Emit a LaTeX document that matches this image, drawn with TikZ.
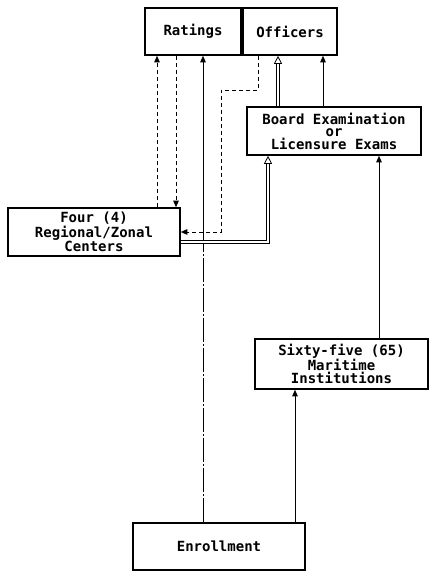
\documentclass[tikz,border=0pt]{standalone}
\usepackage{fontspec}
\usepackage{tikz}
\usetikzlibrary{arrows.meta}
\newfontfamily\dotfont{DejaVu Sans Mono}

\tikzset{
  box/.style={draw, line width=1.6pt, align=center, inner sep=2pt,
    font=\dotfont\bfseries\fontsize{14}{12.5}\selectfont},
  conn/.style={line width=0.9pt, -{Triangle[length=6.5pt,width=5.5pt]}},
  dashconn/.style={conn, dash pattern=on 4pt off 3pt},
  dashdotconn/.style={line width=0.9pt, dash pattern=on 24pt off 2pt on 2pt off 2pt},
  dblconn/.style={double, double distance=2.6pt, line width=0.8pt,
    -{Triangle[open,length=8pt,width=8pt,line width=0.8pt]}}
}

\begin{document}
\begin{tikzpicture}[x=1pt,y=-1pt]
    \useasboundingbox (0,0) rectangle (431,573);

    % Top row of boxes
    \node[box, minimum width=96pt, minimum height=47pt] (ratings) at (193,31.5) {Ratings};
    \node[box, minimum width=94pt, minimum height=47pt] (officers) at (290,31.5) {Officers};

    % Exams and the regional centers
    \node[box, minimum width=174pt, minimum height=48pt] (board) at (334,131) {Board Examination\\or\\Licensure Exams};
    \node[box, minimum width=172pt, minimum height=48pt] (four) at (94,232) {Four (4)\\Regional/Zonal\\Centers};

    % Schools and enrollment
    \node[box, minimum width=173pt, minimum height=50pt] (sixty) at (341.5,364) {Sixty-five (65)\\Maritime\\Institutions};
    \node[box, minimum width=172pt, minimum height=47pt] (enroll) at (219,546.5) {Enrollment};

    % Dashed links between Ratings and the centers
    \draw[dashconn] (157,0 |- four.north) -- (157,0 |- ratings.south);
    \draw[dashconn] (176,0 |- ratings.south) -- (176,0 |- four.north);

    % Officers back to the centers
    \draw[dashconn] (258,0 |- officers.south) |- (221,90) |- (four.east);

    % Enrollment straight up to Ratings
    \coordinate (cross) at (203,246);
    \draw[dashdotconn] (203,0 |- enroll.north) -- (cross);
    \draw[conn] (cross) -- (203,0 |- ratings.south);

    % Centers to the board exams, and on to Officers
    \draw[dblconn] (four.east |- 0,242) -| (268,0 |- board.south);
    \draw[dblconn] (278,0 |- board.north) -- (278,0 |- officers.south);
    \draw[conn] (323,0 |- board.north) -- (323,0 |- officers.south);

    % Enrollment through the institutions to the board exams
    \draw[conn] (295,0 |- enroll.north) -- (295,0 |- sixty.south);
    \draw[conn] (379,0 |- sixty.north) -- (379,0 |- board.south);
\end{tikzpicture}
\end{document}
